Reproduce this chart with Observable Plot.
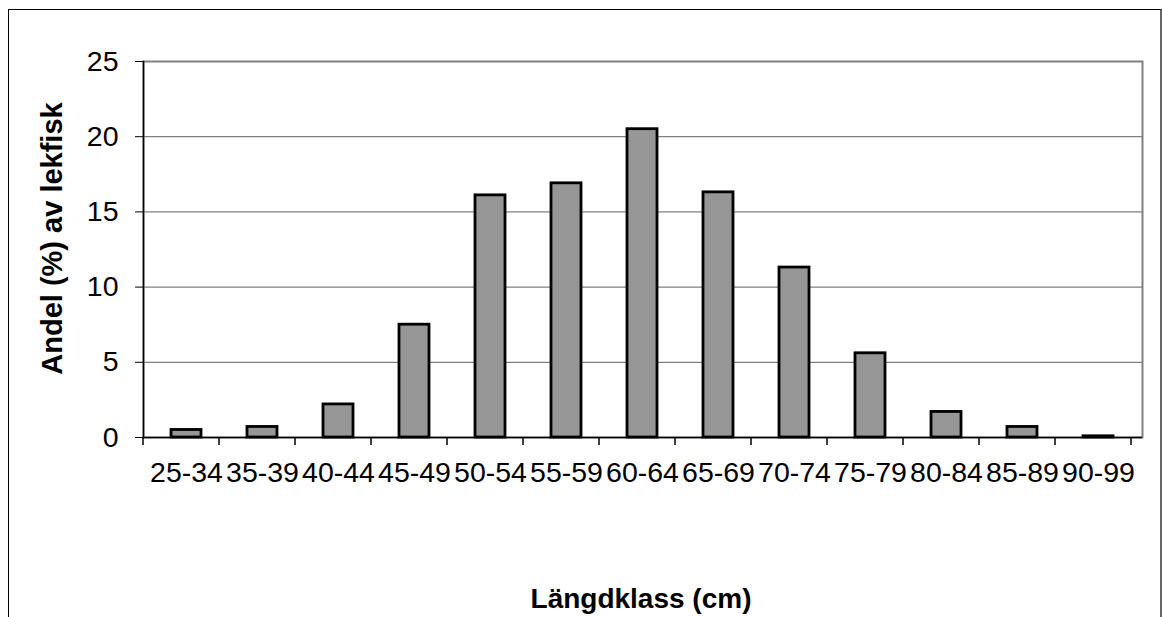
<!DOCTYPE html>
<html>
<head>
<meta charset="utf-8">
<script src="https://cdn.jsdelivr.net/npm/d3@7"></script>
<script src="https://cdn.jsdelivr.net/npm/@observablehq/plot@0.6"></script>
<style>
  html, body { margin: 0; padding: 0; background: #fff; }
  #wrap { position: relative; width: 1162px; height: 617px; overflow: hidden; }
  #border { position: absolute; left: 8px; top: 9px; width: 1151px; height: 700px;
            border-left: 1px solid #000; border-top: 1px solid #000; border-right: 2px solid #666; }
  #chart { position: absolute; left: 0; top: 0; }
</style>
</head>
<body>
<div id="wrap"><div id="border"></div><div id="chart"></div></div>
<script>
const categories = ["25-34","35-39","40-44","45-49","50-54","55-59","60-64","65-69","70-74","75-79","80-84","85-89","90-99"];
const values = [0.5, 0.7, 2.2, 7.5, 16.1, 16.9, 20.5, 16.3, 11.3, 5.6, 1.7, 0.7, 0.08];
const yTicks = [0, 5, 10, 15, 20, 25];
const gridTicks = [5, 10, 15, 20];
const yLabel = "Andel (%) av lekfisk";
const xLabel = "Längdklass (cm)";

const data = categories.map((c, i) => ({klass: c, andel: values[i]}));

const plot = Plot.plot({
  width: 1162,
  height: 617,
  marginLeft: 143,
  marginRight: 20,
  marginTop: 61,
  marginBottom: 180,
  style: {fontFamily: "'Liberation Sans', Arial, sans-serif", fontSize: "28.5px", color: "#000", background: "transparent"},
  x: {domain: categories, paddingInner: 0.6, paddingOuter: 0.3, label: null},
  y: {domain: [0, 25], label: null},
  marks: [
    Plot.ruleY(gridTicks, {stroke: "#808080", strokeWidth: 1.3, strokeOpacity: 1}),
    Plot.frame({stroke: "#808080", strokeWidth: 2}),
    Plot.ruleY([0], {stroke: "#000", strokeWidth: 1.5}),
    Plot.frame({anchor: "left", stroke: "#000", strokeWidth: 1.5}),
    Plot.barY(data, {x: "klass", y: "andel", fill: "#969696", stroke: "#000", strokeWidth: 2.8}),
    Plot.axisY({ticks: yTicks, tickSize: 8, tickPadding: 17, tickFormat: d => String(d), fontSize: 28.5, label: null}),
    Plot.axisX({tickSize: 0, tickPadding: 24, fontSize: 28.5, label: null}),
    Plot.text([yLabel], {frameAnchor: "left", textAnchor: "middle", rotate: -90, dx: -91, dy: -11, fontWeight: "bold", fontSize: 29, fill: "#000"}),
    Plot.text([xLabel], {frameAnchor: "bottom", dy: 162, dx: -2, lineAnchor: "middle", fontWeight: "bold", fontSize: 28, fill: "#000"})
  ]
});

document.getElementById("chart").appendChild(plot);

// boundary ticks between categories, computed from Plot's band scale
const sx = plot.scale("x");
const sy = plot.scale("y");
const y0 = sy.apply(0);
const svg = d3.select(plot);
const g = svg.append("g").attr("stroke", "#000").attr("stroke-width", 1.5);
for (let i = 0; i <= categories.length; i++) {
  const x = sx.range[0] + i * sx.step;
  g.append("line").attr("x1", x).attr("x2", x).attr("y1", y0).attr("y2", y0 + 8);
}
</script>
</body>
</html>
